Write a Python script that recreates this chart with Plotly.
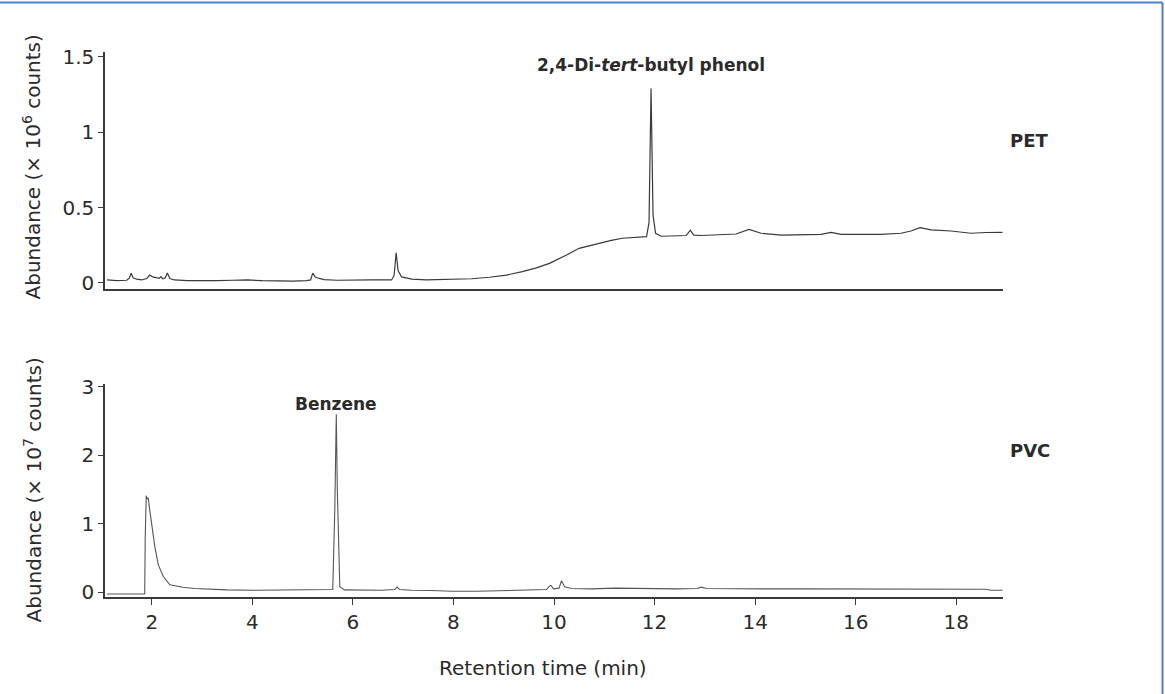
import plotly.graph_objects as go

W, H = 1165, 694

# PET chromatogram (retention time in min, abundance in 1e6 counts)
pet_time = [1.11, 1.30, 1.50, 1.55, 1.59, 1.63, 1.70, 1.80, 1.90, 1.96, 2.02, 2.10, 2.15, 2.18, 2.22, 2.27,
            2.31, 2.36, 2.45, 2.70, 3.00, 3.30, 3.60, 3.90, 4.20, 4.50, 4.80, 5.08, 5.16, 5.20, 5.25, 5.33,
            5.43, 5.68, 5.97, 6.37, 6.77, 6.82, 6.86, 6.90, 6.97, 7.17, 7.46, 7.96, 8.36, 8.72, 9.05, 9.37,
            9.65, 9.91, 10.10, 10.25, 10.50, 10.74, 10.96, 11.14, 11.36, 11.64, 11.84, 11.89, 11.93, 11.97,
            12.02, 12.13, 12.43, 12.63, 12.71, 12.78, 12.93, 13.33, 13.62, 13.88, 14.12, 14.52, 14.91, 15.31,
            15.51, 15.71, 16.11, 16.50, 16.90, 17.10, 17.28, 17.50, 17.90, 18.29, 18.59, 18.92]
pet_abund = [0.020, 0.015, 0.018, 0.030, 0.064, 0.035, 0.025, 0.020, 0.030, 0.052, 0.040, 0.035, 0.030, 0.042,
             0.028, 0.035, 0.066, 0.030, 0.020, 0.015, 0.014, 0.016, 0.018, 0.020, 0.015, 0.013, 0.012, 0.015,
             0.020, 0.065, 0.040, 0.030, 0.022, 0.018, 0.020, 0.020, 0.020, 0.050, 0.200, 0.080, 0.040, 0.025,
             0.020, 0.022, 0.028, 0.038, 0.052, 0.075, 0.100, 0.130, 0.160, 0.186, 0.230, 0.250, 0.270, 0.283,
             0.297, 0.305, 0.308, 0.400, 1.290, 0.450, 0.330, 0.310, 0.312, 0.315, 0.350, 0.318, 0.315, 0.318,
             0.325, 0.356, 0.330, 0.318, 0.318, 0.322, 0.336, 0.322, 0.322, 0.322, 0.330, 0.345, 0.367, 0.352,
             0.345, 0.330, 0.335, 0.336]

# PVC chromatogram (retention time in min, abundance in 1e7 counts)
pvc_time = [1.11, 1.50, 1.86, 1.87, 1.89, 1.91, 1.93, 1.96, 2.00, 2.06, 2.13, 2.23, 2.36, 2.50, 2.62, 2.85,
            3.09, 3.50, 4.00, 4.50, 5.00, 5.48, 5.60, 5.64, 5.67, 5.69, 5.71, 5.74, 5.83, 6.17, 6.57, 6.83,
            6.88, 6.93, 7.17, 7.56, 7.96, 8.46, 8.95, 9.45, 9.85, 9.91, 9.94, 9.99, 10.10, 10.15, 10.21, 10.35,
            10.74, 11.22, 11.54, 11.93, 12.43, 12.85, 12.93, 13.03, 13.53, 14.12, 14.91, 15.91, 16.90, 17.90,
            18.59, 18.69, 18.92]
pvc_abund = [-0.025, -0.025, -0.025, 0.80, 1.41, 1.36, 1.38, 1.20, 0.96, 0.67, 0.40, 0.23, 0.11, 0.085, 0.073,
             0.055, 0.044, 0.035, 0.030, 0.030, 0.030, 0.035, 0.040, 1.20, 2.60, 1.50, 0.76, 0.08, 0.035, 0.030,
             0.030, 0.040, 0.075, 0.040, 0.030, 0.025, 0.015, 0.015, 0.020, 0.030, 0.040, 0.090, 0.100, 0.050,
             0.060, 0.170, 0.080, 0.055, 0.050, 0.060, 0.055, 0.055, 0.050, 0.055, 0.075, 0.055, 0.050, 0.050,
             0.050, 0.048, 0.045, 0.045, 0.045, 0.030, 0.030]

x_ticks = [2, 4, 6, 8, 10, 12, 14, 16, 18]
pet_yticks = [0, 0.5, 1, 1.5]
pet_yticklabels = ["0", "0.5", "1", "1.5"]
pvc_yticks = [0, 1, 2, 3]

FONT = "DejaVu Sans"
TXT = "#2b2b2b"
AX = "#3a3a3a"

fig = go.Figure()
fig.add_trace(go.Scatter(x=pet_time, y=pet_abund, mode="lines", xaxis="x", yaxis="y",
                         line=dict(color="#3a3a3a", width=1.2), showlegend=False, hoverinfo="skip"))
fig.add_trace(go.Scatter(x=pvc_time, y=pvc_abund, mode="lines", xaxis="x2", yaxis="y2",
                         line=dict(color="#555555", width=1.1), showlegend=False, hoverinfo="skip"))

xd = [105 / W, 1003 / W]
common_y = dict(showline=True, linecolor=AX, linewidth=1.5, ticks="outside", ticklen=5, tickwidth=1.3,
                tickcolor=AX, showgrid=False, zeroline=False, automargin=False,
                tickfont=dict(family=FONT, size=20, color=TXT))
fig.update_layout(
    template="none",
    width=W, height=H, margin=dict(l=0, r=0, t=0, b=0, pad=0, autoexpand=False),
    paper_bgcolor="white", plot_bgcolor="white",
    xaxis=dict(domain=xd, range=[1.07, 18.93], anchor="y", showline=True, linecolor=AX, linewidth=1.5,
               showticklabels=False, ticks="", showgrid=False, zeroline=False, automargin=False),
    yaxis=dict(domain=[(H - 289) / H, (H - 52) / H], range=[-0.04, 1.533], anchor="x",
               tickvals=pet_yticks, ticktext=pet_yticklabels, **common_y),
    xaxis2=dict(domain=xd, range=[1.07, 18.93], anchor="y2", showline=True, linecolor=AX, linewidth=1.5,
                ticks="outside", ticklen=6, tickwidth=1.3, tickcolor=AX, tickvals=x_ticks,
                showgrid=False, zeroline=False, automargin=False,
                tickfont=dict(family=FONT, size=20, color=TXT)),
    yaxis2=dict(domain=[(H - 597) / H, (H - 384) / H], range=[-0.069, 3.04], anchor="x2",
                tickvals=pvc_yticks, **common_y),
)

ann = [
    dict(text="<b>2,4-Di-<i>tert</i>-butyl phenol</b>", x=11.93, y=1.447, xref="x", yref="y",
         font=dict(family=FONT, size=17, color=TXT)),
    dict(text="<b>Benzene</b>", x=5.67, y=2.755, xref="x2", yref="y2",
         font=dict(family=FONT, size=17, color=TXT)),
    dict(text="<b>PET</b>", x=1008 / W, y=1 - 140 / H, xref="paper", yref="paper", xanchor="left",
         font=dict(family=FONT, size=18, color=TXT)),
    dict(text="<b>PVC</b>", x=1008 / W, y=1 - 450 / H, xref="paper", yref="paper", xanchor="left",
         font=dict(family=FONT, size=18, color=TXT)),
    dict(text="Abundance (× 10<sup>6</sup> counts)", x=32 / W, y=1 - 167.5 / H, xref="paper", yref="paper",
         textangle=-90, font=dict(family=FONT, size=20, color=TXT)),
    dict(text="Abundance (× 10<sup>7</sup> counts)", x=32 / W, y=1 - 490.5 / H, xref="paper", yref="paper",
         textangle=-90, font=dict(family=FONT, size=20, color=TXT)),
    dict(text="Retention time (min)", x=542.5 / W, y=1 - 668 / H, xref="paper", yref="paper",
         font=dict(family=FONT, size=20, color=TXT)),
]
for a in ann:
    a.setdefault("xanchor", "center")
    a.update(yanchor="middle", showarrow=False)
fig.update_layout(annotations=ann)

fig.update_layout(shapes=[
    dict(type="line", xref="paper", yref="paper", x0=0, x1=1162.5 / W, y0=1 - 2.5 / H, y1=1 - 2.5 / H,
         line=dict(color="#4f7fd0", width=2)),
    dict(type="line", xref="paper", yref="paper", x0=1162.5 / W, x1=1162.5 / W, y0=0, y1=1 - 2.5 / H,
         line=dict(color="#4f7fd0", width=2)),
])

fig.write_html("out.html")
